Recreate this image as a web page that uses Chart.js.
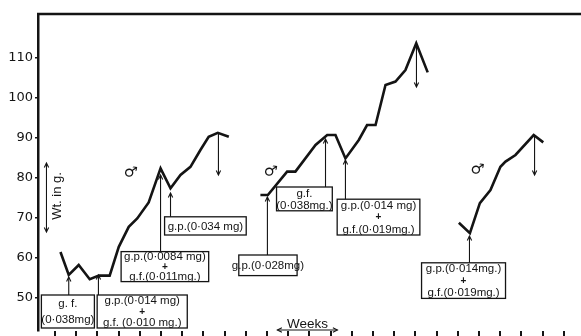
<!DOCTYPE html>
<html>
<head>
<meta charset="utf-8">
<script src="https://cdn.jsdelivr.net/npm/chart.js@4.4.1/dist/chart.umd.min.js"></script>
<style>
  html, body { margin: 0; padding: 0; background: #fff; }
  #wrap { width: 581px; height: 336px; }
</style>
</head>
<body>
<div id="wrap"><canvas id="c" width="581" height="336"></canvas></div>
<script>
// Body weight (g) of three male rats against time (weeks), weighed about twice a week
const weeksA  = [0.26, 0.65, 1.12, 1.64, 2.07, 2.58, 3.01, 3.48, 3.88, 4.42, 4.98, 5.45, 5.92, 6.39, 6.86, 7.25, 7.68, 8.20];
const weightA = [61.5, 55.75, 58.25, 54.7, 55.6, 55.6, 62.8, 67.8, 69.9, 73.9, 82.4, 77.4, 80.75, 82.8, 87.0, 90.3, 91.3, 90.3];

const weeksB  = [9.69, 10.04, 10.95, 11.34, 12.29, 12.84, 13.23, 13.70, 14.33, 14.72, 15.12, 15.59, 16.06, 16.53, 17.04, 17.58];
const weightB = [75.75, 75.75, 81.6, 81.6, 88.25, 90.75, 90.75, 84.9, 89.5, 93.25, 93.25, 103.25, 104.1, 107.0, 113.7, 106.4];

const weeksC  = [19.05, 19.57, 20.04, 20.54, 21.01, 21.25, 21.72, 22.58, 23.03];
const weightC = [68.8, 66.2, 73.7, 77.0, 82.8, 84.1, 85.75, 90.75, 88.9];

const yTicks = [50, 60, 70, 80, 90, 100, 110];
const weekTicks = [0, 1, 2, 3, 4, 5, 6, 7, 8, 9, 10, 11, 12, 13, 14, 15, 16, 17, 18, 19, 20, 21, 22, 23, 24];

// doses given, and the week / weight the arrow points at
const doseText = [
  ['g. f.', '(0·038mg)'],
  ['g.p.(0·014 mg)', '+', 'g.f. (0·010 mg.)'],
  ['g.p.(0·0084 mg)', '+', 'g.f.(0·011mg.)'],
  ['g.p.(0·034 mg)'],
  ['g.p.(0·028mg)'],
  ['g.f.', '(0·038mg.)'],
  ['g.p.(0·014 mg)', '+', 'g.f.(0·019mg.)'],
  ['g.p.(0·014mg.)', '+', 'g.f.(0·019mg.)']
];
const doseWeek  = [0.65, 2.05, 4.98, 5.45, 10.02, 12.76, 13.70, 19.55];
const doseTipWt = [55.25, 55.75, 80.75, 76.25, 75.25, 89.75, 84.5, 65.5];

// end of each record (down arrows)
const endWeek   = [7.71, 17.05, 22.62];
const endFromWt = [91.25, 113.25, 90.75];
const endToWt   = [80.75, 102.75, 80.75];

// male sign beside each curve
const sexWeek = [3.56, 10.17, 19.92];
const sexWt   = [81.25, 81.5, 82.0];

// label boxes: [left wk, right wk, top g, bottom g]
const boxLayout = [
  [-0.64, 1.86, 50.75, 42.5],
  [1.99, 6.24, 50.75, 42.5],
  [3.12, 7.25, 61.6, 54.1],
  [5.17, 9.02, 70.3, 65.75],
  [8.67, 11.42, 60.75, 55.6],
  [10.45, 13.08, 77.75, 71.8],
  [13.31, 17.21, 74.7, 65.75],
  [17.29, 21.25, 58.8, 49.9]
];

const INK = '#141414';
const X_MIN = -0.8, X_MAX = 24.81;
const Y_MIN = 41.75, Y_MAX = 121;

function toPts(xs, ys) { return xs.map((v, i) => ({ x: v, y: ys[i] })); }

function arrow(ctx, x0, y0, x1, y1, both) {
  ctx.beginPath(); ctx.moveTo(x0, y0); ctx.lineTo(x1, y1); ctx.stroke();
  const head = (xa, ya, xb, yb) => {
    const ang = Math.atan2(yb - ya, xb - xa), L = 5, s = 0.45;
    ctx.beginPath();
    ctx.moveTo(xb - L * Math.cos(ang - s), yb - L * Math.sin(ang - s));
    ctx.lineTo(xb, yb);
    ctx.lineTo(xb - L * Math.cos(ang + s), yb - L * Math.sin(ang + s));
    ctx.stroke();
  };
  head(x0, y0, x1, y1);
  if (both) head(x1, y1, x0, y0);
}

const notesPlugin = {
  id: 'notes',
  afterDatasetsDraw(chart) {
    const { ctx, chartArea: a, scales: { x, y } } = chart;
    ctx.save();
    ctx.strokeStyle = INK;
    ctx.fillStyle = INK;

    // top frame
    ctx.lineWidth = 2.5;
    ctx.beginPath(); ctx.moveTo(a.left - 1, a.top); ctx.lineTo(a.right, a.top); ctx.stroke();

    // dose boxes and their arrows
    ctx.textAlign = 'center';
    ctx.textBaseline = 'middle';
    doseText.forEach((lines, i) => {
      const [l, r, t, b] = boxLayout[i];
      const x0 = x.getPixelForValue(l), x1 = x.getPixelForValue(r);
      const y0 = y.getPixelForValue(t), y1 = y.getPixelForValue(b);
      ctx.lineWidth = 1.3;
      ctx.strokeRect(x0, y0, x1 - x0, y1 - y0);
      const cx = (x0 + x1) / 2, h = y1 - y0;
      lines.forEach((txt, k) => {
        ctx.font = txt === '+' ? 'bold 10px "Liberation Sans"' : '11.5px "Liberation Sans"';
        ctx.fillText(txt, cx, y0 + h * (k + 0.5) / lines.length + 0.5);
      });
      ctx.lineWidth = 1.1;
      const ax = x.getPixelForValue(doseWeek[i]);
      arrow(ctx, ax, y0, ax, y.getPixelForValue(doseTipWt[i]));
    });

    // end-of-record arrows
    endWeek.forEach((w, i) => {
      const ax = x.getPixelForValue(w);
      arrow(ctx, ax, y.getPixelForValue(endFromWt[i]), ax, y.getPixelForValue(endToWt[i]));
    });

    // male signs
    ctx.font = '15px "DejaVu Sans"';
    sexWeek.forEach((w, i) => {
      ctx.save();
      ctx.translate(x.getPixelForValue(w), y.getPixelForValue(sexWt[i]));
      ctx.rotate(0.15);
      ctx.fillText('♂', 0, 0);
      ctx.restore();
    });

    // axis labels drawn inside the frame, as in the original
    ctx.save();
    ctx.translate(x.getPixelForValue(0.12), y.getPixelForValue(75.5));
    ctx.rotate(-Math.PI / 2);
    ctx.font = '13px "Liberation Sans"';
    ctx.fillText('Wt. in g.', 0, 0);
    ctx.restore();
    ctx.lineWidth = 1.1;
    const wx = x.getPixelForValue(-0.40);
    arrow(ctx, wx, y.getPixelForValue(66.5), wx, y.getPixelForValue(83.75), true);

    ctx.font = '13.5px "Liberation Sans"';
    ctx.textBaseline = 'alphabetic';
    ctx.fillText('Weeks', x.getPixelForValue(11.91), y.getPixelForValue(42.6));
    const wy = y.getPixelForValue(42.0);
    arrow(ctx, x.getPixelForValue(10.49), wy, x.getPixelForValue(13.32), wy, true);

    ctx.restore();
  }
};

const lineStyle = {
  borderColor: INK,
  borderWidth: 2.6,
  pointRadius: 0,
  tension: 0,
  fill: false,
  borderJoinStyle: 'miter'
};

new Chart(document.getElementById('c'), {
  type: 'line',
  data: {
    datasets: [
      { label: 'A', data: toPts(weeksA, weightA), ...lineStyle },
      { label: 'B', data: toPts(weeksB, weightB), ...lineStyle },
      { label: 'C', data: toPts(weeksC, weightC), ...lineStyle }
    ]
  },
  options: {
    responsive: false,
    animation: false,
    layout: { padding: { top: 14, left: 0, right: 0, bottom: 0 } },
    plugins: { legend: { display: false }, tooltip: { enabled: false } },
    scales: {
      x: {
        type: 'linear',
        min: X_MIN,
        max: X_MAX,
        afterBuildTicks: (s) => { s.ticks = weekTicks.map(v => ({ value: v })); },
        afterFit: (s) => { s.height = 5; s.paddingLeft = 0; s.paddingRight = 0; },
        ticks: { display: false },
        grid: { drawOnChartArea: false, drawTicks: true, tickLength: 5, color: INK, lineWidth: 2 },
        border: { display: false }
      },
      y: {
        type: 'linear',
        min: Y_MIN,
        max: Y_MAX,
        afterBuildTicks: (s) => { s.ticks = yTicks.map(v => ({ value: v })); },
        afterFit: (s) => { s.width = 38; s.paddingTop = 0; s.paddingBottom = 0; },
        ticks: {
          color: INK,
          padding: 2,
          font: { family: 'DejaVu Sans', size: 13 }
        },
        grid: { drawOnChartArea: false, drawTicks: true, tickLength: 3, color: INK, lineWidth: 1.5 },
        border: { display: true, color: INK, width: 2.5 }
      }
    }
  },
  plugins: [notesPlugin]
});
</script>
</body>
</html>
